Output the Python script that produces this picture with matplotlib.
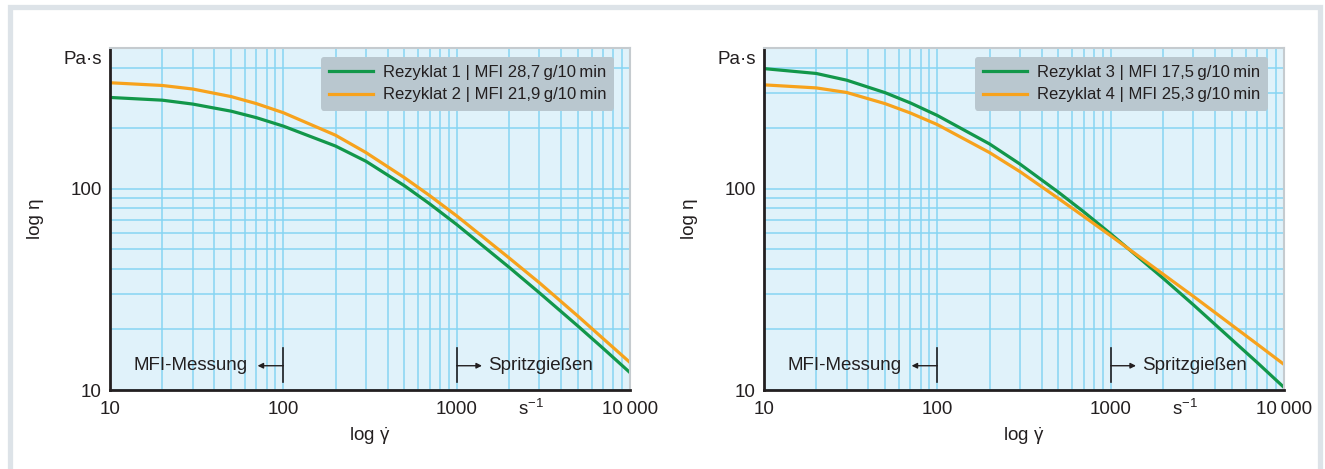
import matplotlib
matplotlib.use("Agg")
import matplotlib.pyplot as plt
from matplotlib.ticker import FixedLocator, NullFormatter
from matplotlib.patches import Rectangle

plt.rcParams['font.family'] = ['Liberation Sans', 'DejaVu Sans']
plt.rcParams['mathtext.fontset'] = 'custom'
plt.rcParams['mathtext.rm'] = 'Liberation Sans'

# Scherrate (1/s)
gamma = [10, 20, 30, 50, 70, 100, 200, 300, 500, 700, 1000, 2000, 3000, 5000, 7000, 10000]

# Viskositaet (Pa*s), links
eta_r1 = [284, 275.3, 263.3, 242.7, 225.3, 204.6, 162.9, 136.8, 103.4, 84.0, 66.4,
          40.8, 30.4, 20.8, 16.1, 12.2]
eta_r2 = [336, 325.7, 312.8, 286.8, 264.6, 238.5, 184.4, 151.1, 113.4, 92.3, 73.3,
          45.4, 34.1, 23.3, 18.0, 13.7]
# rechts
eta_r3 = [395, 373.7, 346.0, 299.9, 266.6, 231.1, 166.9, 132.5, 96.0, 76.7, 59.7,
          36.0, 26.5, 17.8, 13.7, 10.3]
eta_r4 = [328, 316.8, 300.6, 264.5, 237.6, 208.2, 151.2, 121.5, 89.4, 72.8, 58.4,
          37.7, 29.2, 21.0, 16.9, 13.4]

labels_l = ["Rezyklat 1 | MFI 28,7\u2009g/10\u2009min", "Rezyklat 2 | MFI 21,9\u2009g/10\u2009min"]
labels_r = ["Rezyklat 3 | MFI 17,5\u2009g/10\u2009min", "Rezyklat 4 | MFI 25,3\u2009g/10\u2009min"]

xticks = [10, 100, 1000, 10000]
xticklabels = ["10", "100", "1000", "10\u2009000"]
yticks = [10, 100]
yticklabels = ["10", "100"]
xminor = [20, 30, 40, 50, 60, 70, 80, 90, 200, 300, 400, 500, 600, 700, 800, 900,
          2000, 3000, 4000, 5000, 6000, 7000, 8000, 9000]
yminor_l = [20, 30, 40, 50, 60, 70, 80, 90, 200, 400]
yminor_r = [20, 30, 40, 50, 60, 70, 80, 90, 200, 300, 400]

GREEN = '#12974a'
ORANGE = '#f7a21c'
GRID = '#86d5f3'
BG = '#e0f2fa'
TXT = '#231f20'

W, H = 1325, 469
fig = plt.figure(figsize=(W / 100, H / 100), dpi=100)

# grauer Rahmen
fig.add_artist(Rectangle((9.5 / W, -0.1), (1320 - 9.5) / W, 1.1 - 7.5 / H,
                         transform=fig.transFigure, fill=False,
                         edgecolor='#dde3e8', lw=3.8))


def panel(left_px, eta_a, eta_b, labels, yminor):
    ax = fig.add_axes([left_px / W, (H - 390) / H, 520 / W, 342 / H])
    ax.set_facecolor(BG)
    ax.set_xscale('log')
    ax.set_yscale('log')
    ax.set_xlim(10, 10000)
    ax.set_ylim(10, 500)

    ax.xaxis.set_major_locator(FixedLocator(xticks))
    ax.xaxis.set_minor_locator(FixedLocator(xminor))
    ax.yaxis.set_major_locator(FixedLocator(yticks))
    ax.yaxis.set_minor_locator(FixedLocator(yminor))
    ax.set_xticklabels(xticklabels)
    ax.set_yticklabels(yticklabels)
    ax.xaxis.set_minor_formatter(NullFormatter())
    ax.yaxis.set_minor_formatter(NullFormatter())
    ax.tick_params(which='both', length=0, labelsize=13.5, colors=TXT)
    ax.tick_params(axis='x', pad=8)
    ax.tick_params(axis='y', pad=6)
    ax.grid(True, which='both', color=GRID, lw=1.1)
    ax.set_axisbelow(True)

    for s in ['left', 'bottom']:
        ax.spines[s].set_color(TXT)
        ax.spines[s].set_linewidth(2)
    for s in ['top', 'right']:
        ax.spines[s].set_color('#c5cbcf')
        ax.spines[s].set_linewidth(1.5)

    ax.plot(gamma, eta_a, color=GREEN, lw=2.3, label=labels[0])
    ax.plot(gamma, eta_b, color=ORANGE, lw=2.3, label=labels[1])

    leg = ax.legend(loc='upper right', bbox_to_anchor=(0.97, 0.975), fontsize=12,
                    frameon=True, facecolor='#b9c7cf', edgecolor='none', framealpha=1,
                    fancybox=True, handlelength=2.6, handletextpad=0.6,
                    borderpad=0.5, labelspacing=0.45, borderaxespad=0)
    for t in leg.get_texts():
        t.set_color(TXT)
    for l in leg.get_lines():
        l.set_linewidth(2.3)

    ax.text(-0.015, 0.965, "Pa·s", transform=ax.transAxes, ha='right', va='center',
            fontsize=13.5, color=TXT)
    ax.text(2700, -0.055, r"s$^{-1}$", transform=ax.get_xaxis_transform(),
            ha='center', va='center', fontsize=13.5, color=TXT)
    ax.set_xlabel(r"log $\mathrm{\dot{\gamma}}$", fontsize=13.5, color=TXT)
    ax.xaxis.set_label_coords(0.5, -0.105)
    ax.set_ylabel("log η", fontsize=13.5, color=TXT)
    ax.yaxis.set_label_coords(-0.126, 0.5)

    # Bereiche
    ax.plot([100, 100], [11, 16.2], color=TXT, lw=1.2)
    ax.annotate("", xy=(71, 13.2), xytext=(100, 13.2),
                arrowprops=dict(arrowstyle='-|>', color=TXT, lw=1, mutation_scale=8,
                                shrinkA=0, shrinkB=0))
    ax.text(62, 13.2, "MFI-Messung", ha='right', va='center', fontsize=13.5, color=TXT)
    ax.plot([1000, 1000], [11, 16.2], color=TXT, lw=1.2)
    ax.annotate("", xy=(1400, 13.2), xytext=(1000, 13.2),
                arrowprops=dict(arrowstyle='-|>', color=TXT, lw=1, mutation_scale=8,
                                shrinkA=0, shrinkB=0))
    ax.text(1520, 13.2, "Spritzgießen", ha='left', va='center', fontsize=13.5, color=TXT)
    return ax


panel(110, eta_r1, eta_r2, labels_l, yminor_l)
panel(764, eta_r3, eta_r4, labels_r, yminor_r)

fig.savefig("out.png", dpi=100)
